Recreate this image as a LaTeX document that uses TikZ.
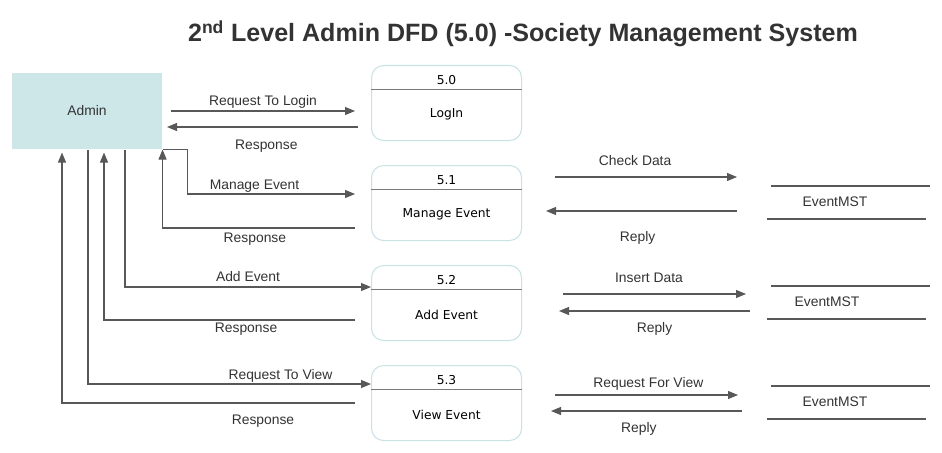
\documentclass[tikz,border=0pt]{standalone}
\usepackage{fontspec}
\setmainfont{Liberation Sans}
\newfontfamily\verd{DejaVu Sans}
\usetikzlibrary{arrows.meta,calc}
\definecolor{adminfill}{RGB}{205,231,233}
\definecolor{procline}{RGB}{200,227,229}
\definecolor{lin}{RGB}{88,88,88}
\definecolor{txt}{RGB}{51,51,51}
\begin{document}
\begin{tikzpicture}[x=0.75pt,y=-0.75pt,
  flow/.style={draw=lin, line width=0.8pt, -{Triangle[length=7.5pt,width=6pt]}},
  lbl/.style={text=txt, font=\fontsize{10.4}{12}\selectfont, inner sep=0},
  proc/.style={draw=procline, line width=0.8pt, rounded corners=9pt, minimum width=112.5pt, minimum height=56.25pt, inner sep=0},
  ptxt/.style={text=black, font=\verd\fontsize{9.2}{11}\selectfont, inner sep=0},
  divider/.style={draw=lin!80, line width=0.7pt},
  store/.style={draw=lin, line width=0.8pt}]
\useasboundingbox (0,0) rectangle (942,453);

% title
\node[text=txt, font=\bfseries\fontsize{18.8}{22}\selectfont, inner sep=0] (title) at (523,34) {2\textsuperscript{nd} Level Admin DFD (5.0) -Society Management System};

% admin
\node[fill=adminfill, minimum width=112.5pt, minimum height=57pt, inner sep=0, anchor=north west] (admin) at (12,73) {};
\node[lbl] (admintxt) at (87,111) {Admin};

% processes
\foreach \n/\y/\num/\name in {p0/65/5.0/LogIn, p1/165/5.1/Manage Event, p2/265/5.2/Add Event, p3/365/5.3/View Event}{
  \node[proc, anchor=north west] (\n) at (371,\y) {};
  \draw[divider] ($(\n.north west)+(0,24)$) -- ($(\n.north east)+(0,24)$);
  \node[ptxt] (\n num) at ($(\n.north)+(0,15)$) {\num};
  \node[ptxt] (\n name) at ($(\n.north)+(0,49.5)$) {\name};
}

% data stores
\foreach \s/\y/\tx in {s1/186/835, s2/286/827, s3/386/835}{
  \draw[store] (771,\y) -- (930,\y);
  \draw[store] (767,\y+33) -- (926,\y+33);
  \node[lbl] (\s) at (\tx,\y+16) {EventMST};
}

% coordinates for left flows
\coordinate (l0a) at (171,111);
\coordinate (l0b) at ($(p0.north west)+(-16,46)$);
\coordinate (l0c) at ($(p0.north west)+(-13,62)$);
\coordinate (l0d) at (167,127);
\coordinate (m1) at ($(p1.north west)+(-16,29)$);
\coordinate (r1) at ($(p1.north west)+(-16,63)$);
\coordinate (a2s) at ($(admin.south west)+(113,0)$);
\coordinate (a2e) at ($(p2.north west)+(0,22)$);
\coordinate (r2) at ($(p2.north west)+(-16,55)$);
\coordinate (r2e) at ($(admin.south west)+(92,3)$);
\coordinate (v3s) at ($(admin.south west)+(76,0)$);
\coordinate (v3e) at ($(p3.north west)+(0,19)$);
\coordinate (r3) at ($(p3.north west)+(-16,38)$);
\coordinate (r3e) at ($(admin.south west)+(50,3)$);

\draw[flow] (l0a) -- (l0b) node[lbl, midway, above=1.5pt] (t1) {Request To Login};
\draw[flow] (l0c) -- (l0d) node[lbl, pos=0.48, below=9.5pt] (t2) {Response};
\draw[flow] (admin.south east) -- ++(25,0) |- (m1) node[lbl, pos=0.70, above=0.8pt] (t3) {Manage Event};
\draw[flow] (r1) -| (admin.south east) node[lbl, pos=0.26, below=3pt] (t4) {Response};
\draw[flow] (a2s) |- (a2e) node[lbl, pos=0.75, above=4pt] (t5) {Add Event};
\draw[flow] (r2) -| (r2e) node[lbl, pos=0.217, below=1.5pt] (t6) {Response};
\draw[flow] (v3s) |- (v3e) node[lbl, pos=0.84, above=1pt] (t7) {Request To View};
\draw[flow] (r3) -| (r3e) node[lbl, pos=0.157, below=8.5pt] (t8) {Response};

% right flows
\coordinate (c1a) at (555,177); \coordinate (c1b) at (737,177);
\coordinate (d1a) at (737,211); \coordinate (d1b) at (546,211);
\coordinate (c2a) at (563,294); \coordinate (c2b) at (746,294);
\coordinate (d2a) at (750,311); \coordinate (d2b) at (559,311);
\coordinate (c3a) at (555,395); \coordinate (c3b) at (738,395);
\coordinate (d3a) at (742,411); \coordinate (d3b) at (551,411);

\draw[flow] (c1a) -- (c1b) node[lbl, pos=0.44, above=8pt] (u1) {Check Data};
\draw[flow] (d1a) -- (d1b) node[lbl, pos=0.52, below=15pt] (u2) {Reply};
\draw[flow] (c2a) -- (c2b) node[lbl, pos=0.47, above=8pt] (u3) {Insert Data};
\draw[flow] (d2a) -- (d2b) node[lbl, pos=0.50, below=8pt] (u4) {Reply};
\draw[flow] (c3a) -- (c3b) node[lbl, pos=0.51, above=3pt] (u5) {Request For View};
\draw[flow] (d3a) -- (d3b) node[lbl, pos=0.54, below=8pt] (u6) {Reply};
\end{tikzpicture}
\end{document}
